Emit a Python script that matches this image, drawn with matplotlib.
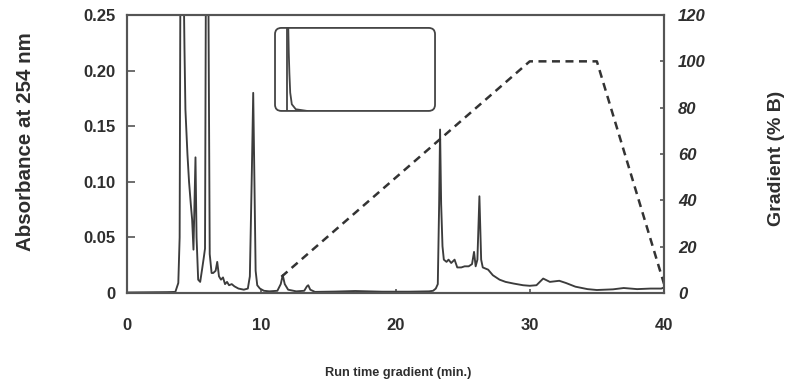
import matplotlib
matplotlib.use("Agg")
import matplotlib.pyplot as plt
from matplotlib.patches import FancyBboxPatch

plt.rcParams['font.family'] = ['Liberation Sans', 'DejaVu Sans']

# UV trace (absorbance at 254 nm) versus run time in minutes
time_min = [0, 3.0, 3.6, 3.82, 3.92, 3.98, 4.2, 4.28, 4.35, 4.5, 4.62, 4.75, 4.85,
            4.95, 5.1, 5.18, 5.3, 5.45, 5.6, 5.72, 5.81, 5.88, 6.05, 6.16, 6.3,
            6.42, 6.6, 6.72, 6.85, 7.0, 7.15, 7.3, 7.45, 7.6, 7.8, 8.0, 8.3, 8.7,
            9.0, 9.15, 9.3, 9.4, 9.48, 9.58, 9.7, 9.9, 10.2, 10.6, 11.2, 11.45,
            11.6, 11.75, 12.0, 12.6, 13.2, 13.4, 13.5, 13.65, 14.0, 15.5, 17.0,
            19.0, 21.0, 22.5, 22.8, 23.0, 23.15, 23.25, 23.32, 23.4, 23.5, 23.6,
            23.8, 23.95, 24.15, 24.4, 24.6, 24.9, 25.15, 25.45, 25.7, 25.85,
            25.97, 26.1, 26.25, 26.38, 26.5, 26.9, 27.25, 27.75, 28.2, 28.8,
            29.5, 30.0, 30.5, 31.0, 31.5, 32.2, 32.7, 33.4, 34.3, 35.0, 36.2,
            37.0, 38.0, 39.0, 39.8, 40.0]
absorbance = [0.0005, 0.0008, 0.001, 0.009, 0.05, 0.30, 0.30, 0.22, 0.165, 0.125,
              0.10, 0.08, 0.066, 0.039, 0.122, 0.05, 0.012, 0.010, 0.022, 0.032,
              0.04, 0.30, 0.30, 0.035, 0.018, 0.018, 0.02, 0.028, 0.015, 0.012,
              0.014, 0.008, 0.010, 0.007, 0.008, 0.006, 0.004, 0.003, 0.004,
              0.015, 0.11, 0.18, 0.11, 0.02, 0.007, 0.004, 0.002, 0.0015, 0.002,
              0.008, 0.016, 0.008, 0.003, 0.0015, 0.002, 0.006, 0.007, 0.003,
              0.001, 0.0013, 0.0018, 0.0012, 0.0012, 0.0015, 0.002, 0.004,
              0.008, 0.08, 0.147, 0.08, 0.042, 0.03, 0.028, 0.03, 0.027, 0.030,
              0.023, 0.023, 0.024, 0.024, 0.026, 0.037, 0.024, 0.03, 0.087, 0.03,
              0.023, 0.021, 0.016, 0.012, 0.010, 0.0085, 0.007, 0.0065, 0.007,
              0.013, 0.010, 0.011, 0.009, 0.0057, 0.0035, 0.0027, 0.0033, 0.0045,
              0.0035, 0.004, 0.004, 0.005]

# Solvent gradient program (% B)
gradient_time = [11.5, 30.0, 35.0, 40.0]
gradient_pct = [7, 100, 100, 4]

# Small thumbnail trace shown in the inset frame (fractions of the frame)
inset_x = [0.083, 0.086, 0.09, 0.095, 0.105, 0.13, 0.2]
inset_y = [1.0, 0.7, 0.45, 0.22, 0.08, 0.02, 0.0]

x_ticks = [0, 10, 20, 30, 40]
abs_ticks = [0, 0.05, 0.10, 0.15, 0.20, 0.25]
abs_labels = ['0', '0.05', '0.10', '0.15', '0.20', '0.25']
pct_ticks = [0, 20, 40, 60, 80, 100, 120]

ink = '#2e2e2e'
frame = '#555555'

fig = plt.figure(figsize=(7.87, 3.86), dpi=100)
ax = fig.add_axes([0.1614, 0.2409, 0.6823, 0.7202])
ax2 = ax.twinx()

ax.plot(time_min, absorbance, color='#3c3c3c', lw=1.35, zorder=3)
ax2.plot(gradient_time, gradient_pct, color='#333333', lw=1.8,
         linestyle=(0, (3.2, 2.2)), zorder=2)

ax.set_xlim(0, 40)
ax.set_ylim(0, 0.25)
ax2.set_ylim(0, 120)

for a in (ax, ax2):
    for s in a.spines.values():
        s.set_color(frame)
        s.set_linewidth(1.5)

ax.set_xticks(x_ticks)
ax.set_xticklabels([str(v) for v in x_ticks])
ax.set_yticks(abs_ticks)
ax.set_yticklabels(abs_labels)
ax.tick_params(axis='y', direction='in', length=5.5, width=1.2, color=frame,
               pad=8, labelsize=12, labelcolor=ink)
ax.tick_params(axis='x', direction='in', length=3, width=1.2, color=frame,
               pad=18, labelsize=12, labelcolor=ink)
for lab in ax.get_xticklabels() + ax.get_yticklabels():
    lab.set_fontweight('bold')

ax2.set_yticks(pct_ticks)
ax2.set_yticklabels([str(v) for v in pct_ticks])
ax2.tick_params(axis='y', direction='in', length=3, width=1.2, color=frame,
                pad=10, labelsize=12, labelcolor=ink)
for lab in ax2.get_yticklabels():
    lab.set_fontweight('bold')
    lab.set_fontstyle('italic')

ax.set_ylabel('Absorbance at 254 nm', fontsize=14.8, fontweight='bold', color=ink)
ax.yaxis.set_label_coords(-0.171, 0.543)
ax2.set_ylabel('Gradient (% B)', fontsize=14, fontweight='bold', color=ink,
               rotation=90)
ax2.yaxis.set_label_coords(1.1937, 0.484)
ax.set_xlabel('Run time gradient (min.)', fontsize=9.2, fontweight='bold', color=ink)
ax.xaxis.set_label_coords(0.5047, -0.265)

# Inset frame with its thumbnail trace
ins = ax.inset_axes([0.2756, 0.655, 0.298, 0.2986])
ins.set_xlim(0, 1)
ins.set_ylim(0, 1)
ins.axis('off')
ins.add_patch(FancyBboxPatch((0.0, 0.0), 1.0, 1.0,
                             boxstyle='round,pad=0,rounding_size=0.04',
                             transform=ins.transAxes, fill=False,
                             edgecolor='#444444', lw=1.3, clip_on=False,
                             mutation_aspect=1.9))
ins.plot([0.073, 0.073], [0.0, 1.0], color='#444444', lw=1.3)
ins.plot(inset_x, inset_y, color='#444444', lw=1.3)

fig.savefig('out.png', dpi=100)
